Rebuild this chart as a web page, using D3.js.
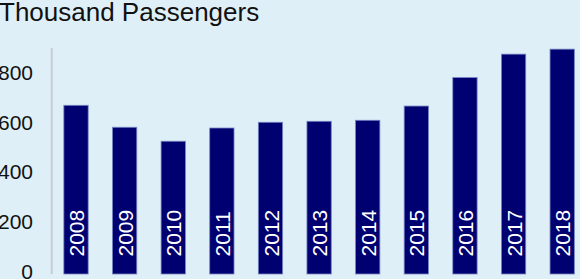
<!DOCTYPE html>
<html>
<head>
<meta charset="utf-8">
<script src="https://cdn.jsdelivr.net/npm/d3@7"></script>
<style>
  html, body { margin: 0; padding: 0; background: #deeff7; }
  svg { display: block; font-family: "Liberation Sans", Arial, sans-serif; }
</style>
</head>
<body>
<svg id="chart" width="580" height="279"></svg>
<script>
// chart data
const years = ["2008", "2009", "2010", "2011", "2012", "2013", "2014", "2015", "2016", "2017", "2018"];
const passengers = [676, 588, 532, 585, 608, 612, 616, 673, 787, 881, 901];
const yTicks = [0, 200, 400, 600, 800];

const svg = d3.select("#chart");
const width = 580;
const height = 279;

svg.append("rect")
  .attr("width", width)
  .attr("height", height)
  .attr("fill", "#deeff7");

// title (left edge is cropped in the source)
svg.append("text")
  .attr("x", -1)
  .attr("y", 20.5)
  .style("font-size", "26px")
  .style("fill", "#111")
  .text("Thousand Passengers");

const axisX = 51.7;

const x = d3.scaleBand()
  .domain(years)
  .range([axisX, 586.5])
  .paddingInner(0.5)
  .paddingOuter(0.25);

const y = d3.scaleLinear()
  .domain([0, 900])
  .range([274, 49.4]);

// y labels only, no ticks / domain
const yAxisG = svg.append("g")
  .attr("transform", "translate(33,-2)")
  .call(d3.axisLeft(y).tickValues(yTicks).tickSize(0).tickPadding(0));
yAxisG.select(".domain").remove();
yAxisG.selectAll("text")
  .style("font-size", "21px")
  .style("font-family", "Liberation Sans, Arial, sans-serif")
  .style("fill", "#111");

// vertical axis line
svg.append("line")
  .attr("x1", axisX)
  .attr("x2", axisX)
  .attr("y1", 48)
  .attr("y2", 274)
  .style("stroke", "#c8cdd2")
  .style("stroke-width", 2);

// bars
svg.append("g")
  .selectAll("rect")
  .data(years)
  .join("rect")
  .attr("x", d => x(d))
  .attr("y", (d, i) => y(passengers[i]))
  .attr("width", x.bandwidth())
  .attr("height", (d, i) => y(0) - y(passengers[i]))
  .style("fill", "#000070")
  .style("stroke", "#7585c4")
  .style("stroke-width", 0.8);

// year labels inside bars
svg.append("g")
  .selectAll("text")
  .data(years)
  .join("text")
  .attr("transform", d => `translate(${x(d) + x.bandwidth() / 2 + 0.5},256.5) rotate(-90)`)
  .attr("dy", "0.36em")
  .style("font-size", "21px")
  .style("fill", "#ffffff")
  .text(d => d);
</script>
</body>
</html>
